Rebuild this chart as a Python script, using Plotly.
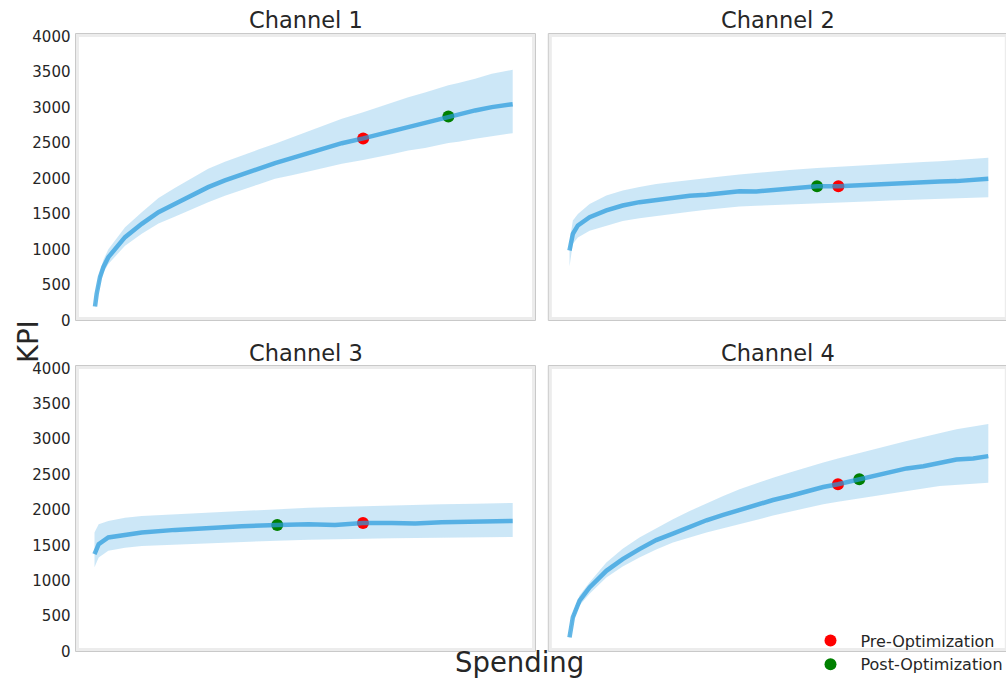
import plotly.graph_objects as go

# Response curves per channel: spending (relative units, 0-100) vs. KPI,
# with the credible band around each mean curve.
channels = ["Channel 1", "Channel 2", "Channel 3", "Channel 4"]

# --- Channel 1 ---
ch1_spend = [0, 0.4, 1.2, 2.0, 3.2, 7.2, 11.2, 15.2, 19.2, 23.1, 27.1, 31.1, 35.1, 39.1, 43.1,
             47.1, 51.1, 55.1, 59.1, 64.2, 67.0, 71.0, 75.0, 79.0, 84.6, 87.0, 91.0, 95.0, 100]
ch1_kpi = [197, 375, 610, 751, 892, 1173, 1361, 1525, 1643, 1760, 1877, 1971, 2056, 2136, 2215,
           2285, 2356, 2426, 2496, 2563, 2605, 2665, 2722, 2778, 2872, 2900, 2957, 3004, 3045]
ch1_upper = [227, 425, 690, 851, 1002, 1313, 1525, 1725, 1868, 2005, 2136, 2233, 2322, 2406, 2488,
             2575, 2666, 2756, 2840, 2933, 2990, 3070, 3144, 3208, 3312, 3343, 3403, 3474, 3530]
ch1_lower = [172, 335, 550, 671, 797, 1053, 1220, 1365, 1463, 1560, 1666, 1756, 1838, 1916, 1995,
             2045, 2096, 2148, 2206, 2258, 2290, 2340, 2394, 2428, 2497, 2515, 2558, 2599, 2637]

# --- Channel 2 ---
ch2_spend = [0, 0.8, 2.0, 4.8, 8.8, 12.7, 16.7, 20.7, 24.7, 28.7, 32.7, 36.7, 40.6, 44.6, 48.6,
             52.6, 59.1, 64.2, 68.5, 72.5, 76.5, 80.5, 84.5, 88.4, 92.4, 96.4, 100]
ch2_kpi = [986, 1220, 1338, 1455, 1549, 1619, 1666, 1699, 1727, 1755, 1769, 1793, 1821, 1816, 1840,
           1868, 1891, 1891, 1905, 1919, 1933, 1943, 1952, 1957, 1962, 1972, 1995]
ch2_upper = [1100, 1408, 1500, 1640, 1760, 1830, 1880, 1920, 1948, 1978, 2005, 2030, 2056, 2078, 2098,
             2118, 2145, 2160, 2178, 2192, 2205, 2218, 2230, 2243, 2258, 2272, 2290]
ch2_lower = [760, 1080, 1170, 1265, 1338, 1400, 1440, 1475, 1502, 1530, 1560, 1585, 1605, 1615, 1625,
             1635, 1648, 1660, 1672, 1680, 1688, 1697, 1705, 1713, 1722, 1730, 1736]

# --- Channel 3 ---
ch3_spend = [0, 1.0, 3.3, 7.3, 11.3, 19.3, 27.3, 35.2, 43.7, 51.2, 57.5, 64.2, 71.1, 76.7, 83.0, 91.0, 100]
ch3_kpi = [1375, 1516, 1610, 1647, 1680, 1718, 1750, 1770, 1786, 1798, 1788, 1814, 1816, 1807, 1826, 1835, 1845]
ch3_upper = [1680, 1798, 1845, 1890, 1915, 1940, 1961, 1985, 2010, 2030, 2040, 2052, 2062, 2070, 2080, 2088, 2098]
ch3_lower = [1190, 1328, 1422, 1465, 1492, 1510, 1525, 1545, 1565, 1578, 1587, 1594, 1600, 1604, 1610, 1617, 1619]

# --- Channel 4 ---
ch4_spend = [0, 0.8, 2.4, 4.8, 8.8, 12.7, 16.7, 20.7, 24.7, 28.7, 32.7, 36.7, 40.6, 44.6, 48.6,
             52.6, 56.6, 60.6, 64.1, 69.2, 72.5, 76.5, 80.5, 84.5, 88.4, 92.4, 96.4, 100]
ch4_kpi = [201, 483, 718, 905, 1140, 1305, 1446, 1573, 1666, 1764, 1854, 1929, 2000, 2080, 2140,
           2196, 2267, 2323, 2363, 2433, 2478, 2525, 2586, 2618, 2665, 2712, 2727, 2760]
ch4_upper = [230, 540, 790, 978, 1257, 1450, 1610, 1745, 1868, 1985, 2095, 2195, 2291, 2375, 2455,
             2530, 2604, 2670, 2725, 2805, 2853, 2915, 2975, 3030, 3088, 3140, 3180, 3215]
ch4_lower = [180, 430, 650, 815, 1046, 1200, 1328, 1440, 1539, 1610, 1680, 1740, 1797, 1860, 1920,
             1975, 2032, 2080, 2115, 2170, 2196, 2232, 2268, 2303, 2337, 2360, 2372, 2384]

# Allocation before / after optimization (spending, KPI)
pre_spend = [64.2, 64.2, 64.2, 64.1]
pre_kpi = [2563, 1891, 1814, 2363]
post_spend = [84.6, 59.1, 43.7, 69.2]
post_kpi = [2872, 1891, 1786, 2433]

y_ticks = [0, 500, 1000, 1500, 2000, 2500, 3000, 3500, 4000]

curves = [
    (ch1_spend, ch1_kpi, ch1_upper, ch1_lower),
    (ch2_spend, ch2_kpi, ch2_upper, ch2_lower),
    (ch3_spend, ch3_kpi, ch3_upper, ch3_lower),
    (ch4_spend, ch4_kpi, ch4_upper, ch4_lower),
]

W, H = 1006, 678


def px(x):
    return x / W


def py(y):
    return (H - y) / H


FONT = "DejaVu Sans"
TXT = "#262626"
LINE = "rgba(40,155,220,0.72)"
BAND = "rgba(40,155,220,0.24)"

# panel frames in pixels: (left, top, right, bottom)
frames = [
    (75.5, 33.5, 535.5, 320.5),
    (548.3, 33.5, 1008.3, 320.5),
    (75.5, 365.5, 535.5, 651.5),
    (548.3, 365.5, 1008.3, 651.5),
]
# pixel positions of spending 0 and 100 per panel
x_anchor_px = [(95.0, 512.7), (569.5, 988.3), (94.5, 512.7), (569.5, 988.3)]

fig = go.Figure()
layout = dict(
    width=W, height=H,
    margin=dict(l=0, r=0, t=0, b=0, autoexpand=False),
    paper_bgcolor="white", plot_bgcolor="white",
    font=dict(family=FONT, color=TXT, size=15),
    showlegend=True,
    shapes=[], annotations=[],
)

for i, (xs, ys, up, lo) in enumerate(curves):
    n = "" if i == 0 else str(i + 1)
    xa, ya = "x" + n, "y" + n
    l, t, r, b = frames[i]
    p0, p100 = x_anchor_px[i]
    scale = (p100 - p0) / 100.0
    right_px = min(r, W)
    x_range = [(l - p0) / scale, 100 + (right_px - p100) / scale]

    layout["xaxis" + n] = dict(
        domain=[px(l), px(right_px)], range=x_range, anchor=ya, automargin=False,
        showgrid=False, zeroline=False, showline=False, showticklabels=False, ticks="",
    )
    layout["yaxis" + n] = dict(
        domain=[py(b), py(t)], range=[0, 4040], anchor=xa, automargin=False,
        showgrid=False, zeroline=False, showline=False, ticks="",
        tickvals=y_ticks, showticklabels=(i % 2 == 0),
        tickfont=dict(family=FONT, size=15, color=TXT), ticklabelstandoff=4,
    )

    # uncertainty band
    fig.add_trace(go.Scatter(
        x=xs + xs[::-1], y=up + lo[::-1], xaxis=xa, yaxis=ya,
        fill="toself", fillcolor=BAND, line=dict(width=0),
        mode="lines", hoverinfo="skip", showlegend=False,
    ))
    # pre / post optimization points
    fig.add_trace(go.Scatter(
        x=[pre_spend[i]], y=[pre_kpi[i]], xaxis=xa, yaxis=ya, mode="markers",
        marker=dict(color="#ff0000", size=12), name="Pre-Optimization",
        legendgroup="pre", showlegend=(i == 0),
    ))
    fig.add_trace(go.Scatter(
        x=[post_spend[i]], y=[post_kpi[i]], xaxis=xa, yaxis=ya, mode="markers",
        marker=dict(color="#008000", size=12), name="Post-Optimization",
        legendgroup="post", showlegend=(i == 0),
    ))
    # mean response curve
    fig.add_trace(go.Scatter(
        x=xs, y=ys, xaxis=xa, yaxis=ya, mode="lines",
        line=dict(color=LINE, width=4.5), hoverinfo="skip", showlegend=False,
    ))

    # panel frame: thin grey edge with a light inner band
    layout["shapes"].append(dict(
        type="rect", xref="paper", yref="paper", layer="above",
        x0=px(l + 2), x1=px(r - 2), y0=py(b - 2), y1=py(t + 2),
        line=dict(color="#ececec", width=3),
    ))
    layout["shapes"].append(dict(
        type="rect", xref="paper", yref="paper", layer="above",
        x0=px(l), x1=px(r), y0=py(b), y1=py(t),
        line=dict(color="#c9c9c9", width=1),
    ))
    # panel title
    layout["annotations"].append(dict(
        text=channels[i], xref="paper", yref="paper",
        x=px((l + r) / 2), y=py(t - 13),
        xanchor="center", yanchor="middle", showarrow=False,
        font=dict(family=FONT, size=22.5, color=TXT),
    ))

layout["annotations"].append(dict(
    text="KPI", xref="paper", yref="paper", x=px(28), y=py(342),
    textangle=-90, xanchor="center", yanchor="middle", showarrow=False,
    font=dict(family=FONT, size=27.5, color=TXT),
))
layout["annotations"].append(dict(
    text="Spending", xref="paper", yref="paper", x=px(519.5), y=py(662),
    xanchor="center", yanchor="middle", showarrow=False,
    font=dict(family=FONT, size=27.5, color=TXT),
))

layout["legend"] = dict(
    x=px(800.5), y=py(623.5), xanchor="left", yanchor="top",
    bgcolor="rgba(0,0,0,0)", borderwidth=0, itemwidth=50,
    font=dict(family=FONT, size=16, color=TXT), tracegroupgap=0,
)

fig.update_layout(**layout)
fig.write_html("out.html")
